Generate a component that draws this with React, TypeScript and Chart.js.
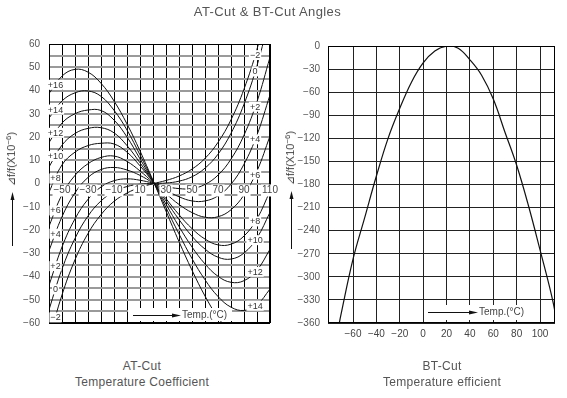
import React, { useEffect, useRef } from 'react';
import { Chart, registerables } from 'chart.js';

Chart.register(...registerables);

const FONT = "'Liberation Sans', Arial, Helvetica, sans-serif";

// ---------- AT-Cut (left) ----------
const atTemps = [-60, -50, -40, -30, -20, -10, 0, 10, 20, 30, 40, 50, 60, 70, 80, 90, 100, 110];
const atXTickLabels = [-50, -30, -10, 10, 30, 50, 70, 90, 110];
const atYTickLabels = [60, 50, 40, 30, 20, 10, 0, -10, -20, -30, -40, -50, -60];
const atCurveNames = ['+16', '+14', '+12', '+10', '+8', '+6', '+4', '+2', '0', '\u22122'];
const atP16 = [38.7, 46.2, 49.1, 47.9, 43.1, 35.5, 25.6, 14.0, 1.3, -11.9, -25.0, -37.3, -48.4, -57.6, -64.2, -67.8, -67.7, -63.2];
const atP14 = [28.1, 35.5, 39.0, 39.8, 37.5, 31.5, 23.0, 12.3, 1.2, -10.4, -21.7, -32.3, -41.4, -48.6, -53.2, -54.6, -52.2, -45.4];
const atP12 = [17.6, 26.0, 30.0, 31.6, 31.4, 27.3, 20.0, 10.6, 1.0, -8.9, -18.5, -27.3, -34.6, -39.9, -42.5, -41.8, -37.3, -28.3];
const atP10 = [7.1, 16.5, 21.5, 23.7, 24.0, 21.8, 16.3, 8.9, 0.8, -7.5, -15.5, -22.7, -28.2, -31.7, -32.5, -29.9, -23.4, -12.4];
const atP8 = [-3.7, 8.0, 13.5, 16.3, 17.3, 17.0, 13.5, 7.6, 0.7, -6.5, -13.4, -19.4, -23.9, -26.4, -26.1, -22.6, -15.2, -3.3];
const atP6 = [-18.4, -4.8, 3.5, 8.5, 11.2, 11.8, 9.5, 5.4, 0.5, -4.4, -9.0, -12.5, -14.5, -14.3, -11.3, -4.9, 5.4, 20.4];
const atP4 = [-28.9, -14.3, -4.0, 2.6, 6.0, 6.9, 5.8, 3.5, 0.3, -2.9, -5.7, -7.5, -7.5, -5.3, -0.3, 8.3, 20.9, 38.1];
const atP2 = [-43.8, -27.3, -15.2, -6.8, -1.5, 1.2, 2.0, 1.4, 0.15, -1.3, -2.2, -2.2, -0.4, 3.6, 10.5, 20.8, 35.2, 54.3];
const atP0 = [-54.3, -36.8, -23.6, -14.0, -7.5, -3.5, -1.3, -0.3, 0, 0.2, 1.0, 2.9, 6.6, 12.6, 21.6, 34.1, 50.7, 72.1];
const atM2 = [-67.3, -47.9, -32.8, -21.5, -13.4, -7.7, -4.1, -1.7, -0.1, 1.3, 3.2, 6.2, 10.8, 17.7, 27.4, 40.6, 57.8, 79.7];
// where the curve names are written (temperature)
const atLeftLabelTemp = -55;
const atRightLabelTemp = 98.5;
const atRightLabelCurves = ['+14', '+12', '+10', '+8', '+6', '+4', '+2', '0', '\u22122'];

// ---------- BT-Cut (right) ----------
const btTemps = [-75, -70, -60, -50, -40, -30, -20, -10, 0, 10, 20, 30, 40, 50, 60, 70, 80, 90, 100, 110, 115];
const btValues = [-386, -347, -277, -223, -169, -120, -81, -47, -22, -6.5, -0.2, -3, -18, -38, -69, -112, -155, -207, -265, -325, -363];
const btXTickLabels = [-60, -40, -20, 0, 20, 40, 60, 80, 100];
const btYTickLabels = [0, -30, -60, -90, -120, -150, -180, -210, -240, -270, -300, -330, -360];

const fmt = (v: number) => (v < 0 ? '\u2212' + Math.abs(v) : String(v));

function interp(xs: number[], ys: number[], x: number) {
  for (let i = 0; i < xs.length - 1; i++) {
    if (x >= xs[i] && x <= xs[i + 1]) {
      const t = (x - xs[i]) / (xs[i + 1] - xs[i]);
      return ys[i] + t * (ys[i + 1] - ys[i]);
    }
  }
  return ys[ys.length - 1];
}

function drawUpArrow(ctx: CanvasRenderingContext2D, x: number, yTop: number, yBottom: number) {
  ctx.save();
  ctx.strokeStyle = '#111';
  ctx.lineWidth = 1;
  ctx.beginPath();
  ctx.moveTo(x + 0.5, yBottom);
  ctx.lineTo(x + 0.5, yTop + 4);
  ctx.stroke();
  ctx.fillStyle = '#111';
  ctx.beginPath();
  ctx.moveTo(x + 0.5, yTop - 1);
  ctx.lineTo(x + 2.5, yTop + 7);
  ctx.lineTo(x - 1.5, yTop + 7);
  ctx.closePath();
  ctx.fill();
  ctx.restore();
}

function drawTempLabel(ctx: CanvasRenderingContext2D, x0: number, x1: number, y: number, box: [number, number, number, number]) {
  ctx.save();
  ctx.fillStyle = '#fff';
  ctx.fillRect(box[0], box[1], box[2], box[3]);
  ctx.strokeStyle = '#111';
  ctx.lineWidth = 1;
  ctx.beginPath();
  ctx.moveTo(x0, y + 0.5);
  ctx.lineTo(x1 - 6, y + 0.5);
  ctx.stroke();
  ctx.fillStyle = '#111';
  ctx.beginPath();
  ctx.moveTo(x1 + 1, y + 0.5);
  ctx.lineTo(x1 - 8, y - 1.5);
  ctx.lineTo(x1 - 8, y + 2.5);
  ctx.closePath();
  ctx.fill();
  ctx.fillStyle = '#444';
  ctx.font = `10px ${FONT}`;
  ctx.textBaseline = 'middle';
  ctx.textAlign = 'left';
  ctx.fillText('Temp.(\u00B0C)', x1 + 2, y + 0.5);
  ctx.restore();
}

function borderRect(chart: any) {
  const { left, top, right, bottom } = chart.chartArea;
  const ctx = chart.ctx;
  ctx.save();
  ctx.strokeStyle = '#000';
  ctx.lineWidth = 1;
  ctx.strokeRect(Math.round(left) + 0.5, Math.round(top) + 0.5, Math.round(right - left) - 1, Math.round(bottom - top) - 1);
  ctx.restore();
}

export default function App() {
  const leftRef = useRef<HTMLCanvasElement>(null);
  const rightRef = useRef<HTMLCanvasElement>(null);

  useEffect(() => {
    const atSeries = [atP16, atP14, atP12, atP10, atP8, atP6, atP4, atP2, atP0, atM2];

    const leftDecor = {
      id: 'leftDecor',
      afterDatasetsDraw(chart: any) {
        const ctx = chart.ctx;
        const xs = chart.scales.x;
        const ys = chart.scales.y;
        borderRect(chart);
        ctx.save();
        ctx.font = `9px ${FONT}`;
        ctx.textAlign = 'center';
        ctx.textBaseline = 'middle';
        const put = (name: string, t: number) => {
          const idx = atCurveNames.indexOf(name);
          const v = interp(atTemps, atSeries[idx], t);
          const px = xs.getPixelForValue(t);
          const py = ys.getPixelForValue(v);
          const w = ctx.measureText(name).width + 2;
          ctx.fillStyle = '#fff';
          ctx.fillRect(px - w / 2, py - 5, w, 10);
          ctx.fillStyle = '#333';
          ctx.fillText(name, px, py + 0.5);
        };
        atCurveNames.forEach((n) => put(n, atLeftLabelTemp));
        atRightLabelCurves.forEach((n) => put(n, atRightLabelTemp));
        ctx.restore();
        drawTempLabel(ctx, 133, 180, 315, [128, 308, 104, 13]);
      },
      afterDraw(chart: any) {
        drawUpArrow(chart.ctx, 12, 193, 246);
      },
    };

    const left = new Chart(leftRef.current as HTMLCanvasElement, {
      type: 'line',
      data: {
        datasets: atSeries.map((vals, i) => ({
          label: atCurveNames[i],
          data: atTemps.map((t, j) => ({ x: t, y: vals[j] })),
          borderColor: '#111',
          borderWidth: 1,
          pointRadius: 0,
          tension: 0.4,
          fill: false,
        })),
      },
      options: {
        animation: false,
        responsive: false,
        devicePixelRatio: 1,
        layout: { padding: { top: 44, right: 20, bottom: 17, left: 0 } },
        plugins: { legend: { display: false }, tooltip: { enabled: false }, title: { display: false } },
        elements: { line: { capBezierPoints: false } },
        scales: {
          x: {
            type: 'linear',
            position: { y: 0 } as any,
            min: -60,
            max: 110,
            border: { display: false },
            grid: { color: '#000', lineWidth: 1, drawTicks: false },
            ticks: {
              stepSize: 10,
              autoSkip: false,
              maxRotation: 0,
              padding: 1,
              z: 1,
              color: '#444',
              font: { size: 10, family: FONT },
              showLabelBackdrop: (c: any) => atXTickLabels.includes(c.tick?.value),
              backdropColor: '#fff',
              backdropPadding: { x: 1, y: 0 },
              callback: (v: any) => (atXTickLabels.includes(Number(v)) ? fmt(Number(v)) : ''),
            } as any,
          },
          y: {
            type: 'linear',
            min: -60,
            max: 60,
            border: { display: false },
            afterFit: (s: any) => {
              s.width = 49;
            },
            grid: {
              drawTicks: false,
              color: (c: any) => (Math.abs(c.tick?.value) === 60 ? '#000' : '#9a9a9a'),
              lineWidth: (c: any) => (Math.abs(c.tick?.value) === 60 ? 1 : 2),
            },
            ticks: {
              stepSize: 5,
              autoSkip: false,
              padding: 9,
              color: '#555',
              font: { size: 10, family: FONT },
              callback: (v: any) => (atYTickLabels.includes(Number(v)) ? fmt(Number(v)) : ''),
            },
          },
        },
      },
      plugins: [leftDecor],
    } as any);

    const rightDecor = {
      id: 'rightDecor',
      afterDatasetsDraw(chart: any) {
        borderRect(chart);
        drawTempLabel(chart.ctx, 148, 197, 312, [144, 305, 102, 15]);
      },
      afterDraw(chart: any) {
        drawUpArrow(chart.ctx, 11, 192, 249);
      },
    };

    const right = new Chart(rightRef.current as HTMLCanvasElement, {
      type: 'line',
      data: {
        datasets: [
          {
            label: 'BT-Cut',
            data: btTemps.map((t, j) => ({ x: t, y: btValues[j] })),
            borderColor: '#111',
            borderWidth: 1.2,
            pointRadius: 0,
            tension: 0.4,
            fill: false,
          },
        ],
      },
      options: {
        animation: false,
        responsive: false,
        devicePixelRatio: 1,
        layout: { padding: { top: 46, right: 12, bottom: 0, left: 0 } },
        plugins: { legend: { display: false }, tooltip: { enabled: false }, title: { display: false } },
        elements: { line: { capBezierPoints: false } },
        scales: {
          x: {
            type: 'linear',
            min: -81.4,
            max: 112.8,
            border: { display: false },
            afterFit: (s: any) => {
              s.height = 22;
            },
            afterBuildTicks: (s: any) => {
              s.ticks = btXTickLabels.map((v) => ({ value: v }));
            },
            grid: { color: '#222', lineWidth: 1, drawTicks: false },
            ticks: {
              autoSkip: false,
              maxRotation: 0,
              padding: 5,
              color: '#444',
              font: { size: 10, family: FONT },
              callback: (v: any) => fmt(Number(v)),
            },
          },
          y: {
            type: 'linear',
            min: -360,
            max: 0,
            border: { display: false },
            afterFit: (s: any) => {
              s.width = 48;
            },
            afterBuildTicks: (s: any) => {
              s.ticks = btYTickLabels.map((v) => ({ value: v }));
            },
            grid: { color: '#222', lineWidth: 1, drawTicks: false },
            ticks: {
              autoSkip: false,
              padding: 8,
              color: '#555',
              font: { size: 10, family: FONT },
              callback: (v: any) => fmt(Number(v)),
            },
          },
        },
      },
      plugins: [rightDecor],
    } as any);

    return () => {
      left.destroy();
      right.destroy();
    };
  }, []);

  const textBase: React.CSSProperties = { position: 'absolute', fontFamily: FONT, color: '#555', whiteSpace: 'nowrap' };
  const yTitle = (cx: number, cy: number) => (
    <div
      style={{
        ...textBase,
        left: cx,
        top: cy,
        fontSize: 11,
        color: '#444',
        lineHeight: '12px',
        transform: 'translate(-50%, -50%) rotate(-90deg)',
      }}
    >
      {'\u22BFf/f(X10'}
      <span style={{ fontSize: 8, position: 'relative', top: -4 }}>{'\u22126'}</span>
      {')'}
    </div>
  );

  return (
    <div style={{ position: 'absolute', left: 0, top: 0, width: 567, height: 398, background: '#fff', overflow: 'hidden' }}>
      <canvas ref={leftRef} width={290} height={340} style={{ position: 'absolute', left: 0, top: 0, width: 290, height: 340 }} />
      <canvas ref={rightRef} width={287} height={345} style={{ position: 'absolute', left: 280, top: 0, width: 287, height: 345 }} />
      <div style={{ ...textBase, left: 0, width: 535, top: 4, textAlign: 'center', fontSize: 13, letterSpacing: '0.4px' }}>
        AT-Cut &amp; BT-Cut Angles
      </div>
      {yTitle(12, 159)}
      {yTitle(291, 158)}
      <div style={{ ...textBase, left: 42, width: 200, top: 358, textAlign: 'center', fontSize: 12, lineHeight: '16px', letterSpacing: '0.3px' }}>
        AT-Cut
        <br />
        Temperature Coefficient
      </div>
      <div style={{ ...textBase, left: 342, width: 200, top: 358, textAlign: 'center', fontSize: 12, lineHeight: '16px', letterSpacing: '0.3px' }}>
        BT-Cut
        <br />
        Temperature efficient
      </div>
    </div>
  );
}
